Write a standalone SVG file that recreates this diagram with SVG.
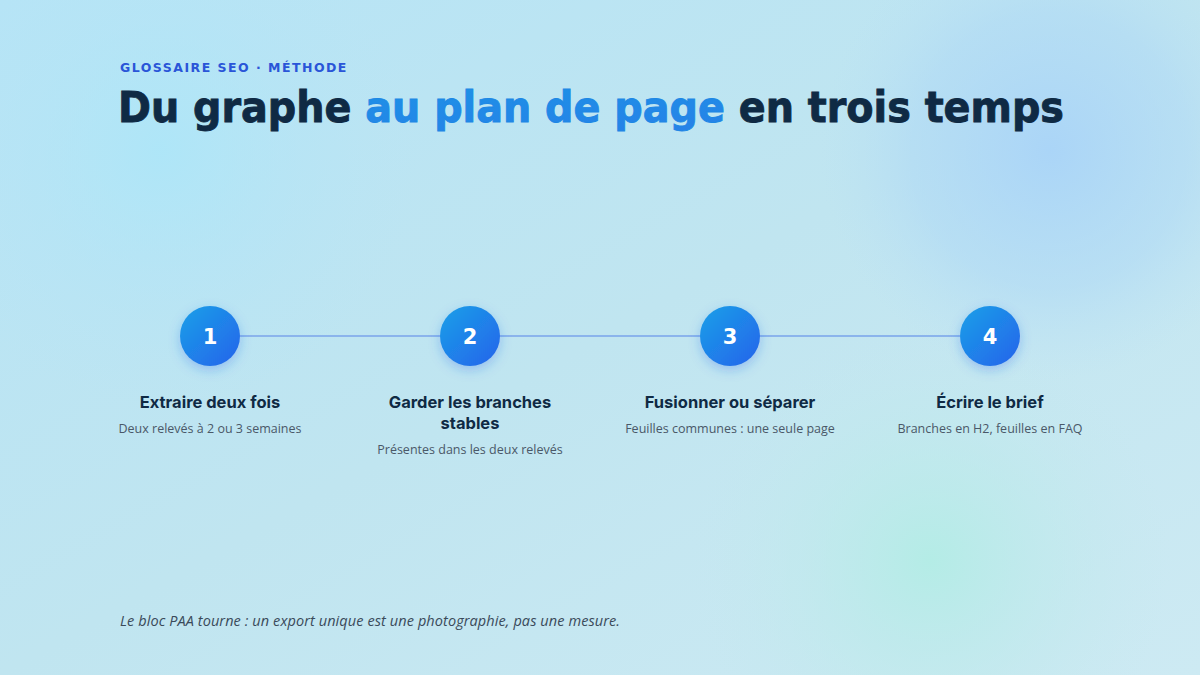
<svg xmlns="http://www.w3.org/2000/svg" width="1200" height="675" viewBox="0 0 1200 675">
  <defs>
    <linearGradient id="bg" x1="0" y1="0" x2="1" y2="1">
      <stop offset="0" stop-color="#b6e4f6"/>
      <stop offset="0.5" stop-color="#c0e5f0"/>
      <stop offset="1" stop-color="#cdeaf3"/>
    </linearGradient>
    <radialGradient id="blobBlue" cx="1050" cy="150" r="230" gradientUnits="userSpaceOnUse">
      <stop offset="0" stop-color="#a8d3f8" stop-opacity="0.9"/>
      <stop offset="0.6" stop-color="#acd7f6" stop-opacity="0.5"/>
      <stop offset="1" stop-color="#b8e0f5" stop-opacity="0"/>
    </radialGradient>
    <radialGradient id="blobTeal" cx="930" cy="560" r="240" gradientUnits="userSpaceOnUse">
      <stop offset="0" stop-color="#b4ece6" stop-opacity="1"/>
      <stop offset="1" stop-color="#c4e8ee" stop-opacity="0"/>
    </radialGradient>
    <radialGradient id="blobCyan" cx="160" cy="150" r="260" gradientUnits="userSpaceOnUse">
      <stop offset="0" stop-color="#ade6f8" stop-opacity="0.9"/>
      <stop offset="1" stop-color="#b8e4f5" stop-opacity="0"/>
    </radialGradient>
    <linearGradient id="circ" x1="0" y1="0" x2="1" y2="1">
      <stop offset="0" stop-color="#1aa0e8"/>
      <stop offset="1" stop-color="#2563eb"/>
    </linearGradient>
    <linearGradient id="accent" x1="0" y1="0" x2="1" y2="1">
      <stop offset="0" stop-color="#1a96e6"/>
      <stop offset="1" stop-color="#2a7ce8"/>
    </linearGradient>
    <filter id="shadow" x="-60%" y="-60%" width="220%" height="220%">
      <feGaussianBlur in="SourceAlpha" stdDeviation="6" result="b"/>
      <feOffset in="b" dy="4" result="o"/>
      <feFlood flood-color="#2563eb" flood-opacity="0.3"/>
      <feComposite in2="o" operator="in"/>
      <feMerge><feMergeNode/><feMergeNode in="SourceGraphic"/></feMerge>
    </filter>
  </defs>
  <style>
    .kicker { font-family: "DejaVu Sans", "Liberation Sans", sans-serif; font-weight: 700; font-size: 12.5px; letter-spacing: 1.6px; fill: #2a55d8; }
    .title { font-family: "DejaVu Sans", "Liberation Sans", sans-serif; font-weight: 700; font-size: 42px; fill: #0f2a44; stroke: #0f2a44; stroke-width: 0.9px; }
    .acc { fill: url(#accent); stroke: #1e88e5; }
    .num { font-family: "DejaVu Sans", "Liberation Sans", sans-serif; font-weight: 700; font-size: 21px; fill: #ffffff; text-anchor: middle; }
    .h { font-family: "Inter", "Liberation Sans", sans-serif; font-weight: 700; font-size: 16.5px; fill: #0f2a44; text-anchor: middle; }
    .s { font-family: "Open Sans", "Liberation Sans", sans-serif; font-size: 12.5px; fill: #4a5868; text-anchor: middle; }
    .foot { font-family: "Open Sans", "Liberation Sans", sans-serif; font-style: italic; font-size: 14.5px; fill: #3a4a5a; }
    .disc { fill: url(#circ); filter: url(#shadow); }
  </style>

  <rect width="1200" height="675" fill="url(#bg)"/>
  <rect width="1200" height="675" fill="url(#blobCyan)"/>
  <rect width="1200" height="675" fill="url(#blobBlue)"/>
  <rect width="1200" height="675" fill="url(#blobTeal)"/>

  <text class="kicker" x="120" y="72" textLength="228" lengthAdjust="spacing">GLOSSAIRE SEO · MÉTHODE</text>
  <text class="title" x="118" y="122" textLength="946" lengthAdjust="spacingAndGlyphs">Du graphe <tspan class="acc">au plan de page</tspan> en trois temps</text>

  <g id="connectors">
    <line x1="240" y1="336" x2="960" y2="336" stroke="#8bb4ec" stroke-width="2"/>
  </g>

  <g id="step1">
    <circle class="disc" cx="210" cy="336" r="30"/>
    <text class="num" x="210" y="344">1</text>
    <text class="h" x="210" y="408">Extraire deux fois</text>
    <text class="s" x="210" y="433">Deux relevés à 2 ou 3 semaines</text>
  </g>
  <g id="step2">
    <circle class="disc" cx="470" cy="336" r="30"/>
    <text class="num" x="470" y="344">2</text>
    <text class="h" x="470" y="408">Garder les branches</text>
    <text class="h" x="470" y="429">stables</text>
    <text class="s" x="470" y="454">Présentes dans les deux relevés</text>
  </g>
  <g id="step3">
    <circle class="disc" cx="730" cy="336" r="30"/>
    <text class="num" x="730" y="344">3</text>
    <text class="h" x="730" y="408">Fusionner ou séparer</text>
    <text class="s" x="730" y="433">Feuilles communes : une seule page</text>
  </g>
  <g id="step4">
    <circle class="disc" cx="990" cy="336" r="30"/>
    <text class="num" x="990" y="344">4</text>
    <text class="h" x="990" y="408">Écrire le brief</text>
    <text class="s" x="990" y="433">Branches en H2, feuilles en FAQ</text>
  </g>

  <text class="foot" x="120" y="626" textLength="500" lengthAdjust="spacing">Le bloc PAA tourne : un export unique est une photographie, pas une mesure.</text>
</svg>
